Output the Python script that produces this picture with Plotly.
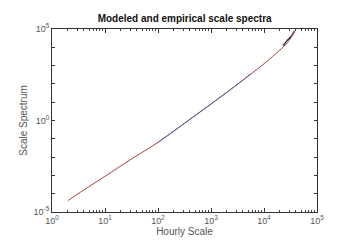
import numpy as np
import plotly.graph_objects as go

# Data (log10 values)
log_scale = [0.30, 0.60, 1.0, 1.5, 2.0, 2.5, 3.0, 3.5, 4.0, 4.3, 4.45, 4.60]
log_model = [-4.38, -3.80, -3.05, -2.10, -1.20, -0.15, 0.90, 1.98, 3.10, 3.85, 4.28, 4.97]

log_fit_scale = [2.0, 2.5, 3.0, 3.5, 3.75]
log_fit_vals = [-1.20, -0.15, 0.90, 1.98, 2.55]

log_emp_scale = [4.36, 4.44, 4.52, 4.57]
log_emp_vals = [4.10, 4.38, 4.62, 4.88]

x_tick_vals = [1, 10, 100, 1000, 10000, 100000]
x_tick_text = ["10<sup>0</sup>", "10<sup>1</sup>", "10<sup>2</sup>", "10<sup>3</sup>", "10<sup>4</sup>", "10<sup>5</sup>"]
y_tick_vals = [1e-5, 1e-4, 1e-3, 1e-2, 1e-1, 1, 10, 100, 1e3, 1e4, 1e5]
y_tick_text = ["10<sup>-5</sup>", "", "", "", "", "10<sup>0</sup>", "", "", "", "", "10<sup>5</sup>"]

p = lambda a: [10 ** v for v in a]

fig = go.Figure()
fig.add_trace(go.Scatter(x=p(log_emp_scale), y=p(log_emp_vals), mode="lines",
                         line=dict(color="#222222", width=1.3, shape="spline"), showlegend=False))
fig.add_trace(go.Scatter(x=p(log_scale), y=p(log_model), mode="lines",
                         line=dict(color="#a8423f", width=1, shape="spline"),
                         showlegend=False))
fig.add_trace(go.Scatter(x=p(log_fit_scale), y=p(log_fit_vals), mode="lines",
                         line=dict(color="#5a5aa8", width=1, shape="spline"), showlegend=False))

tickfont = dict(family="Liberation Sans, Arial, sans-serif", size=9, color="#555555")
fig.update_layout(
    width=362, height=250,
    margin=dict(l=52, r=45, t=29, b=38),
    paper_bgcolor="white", plot_bgcolor="white",
    title=dict(text="<b>Modeled and empirical scale spectra</b>", x=0.51, xanchor="center",
               y=0.925, yanchor="middle",
               font=dict(family="Liberation Sans, Arial, sans-serif", size=10, color="#111111")),
    xaxis=dict(type="log", range=[0, 5], tickvals=x_tick_vals, ticktext=x_tick_text,
               ticks="inside", ticklen=4, tickcolor="#333333", showline=True, linecolor="#333333",
               linewidth=1, mirror="allticks", showgrid=False, zeroline=False, tickfont=tickfont,
               minor=dict(ticks="inside", ticklen=2, tickcolor="#444444", dtick="D1", showgrid=False),
               title=dict(text="Hourly Scale", standoff=2,
                          font=dict(family="Liberation Sans, Arial, sans-serif", size=10, color="#555555"))),
    yaxis=dict(type="log", range=[-5, 5], tickvals=y_tick_vals, ticktext=y_tick_text,
               ticks="inside", ticklen=3, tickcolor="#333333", showline=True, linecolor="#333333",
               linewidth=1, mirror="allticks", showgrid=False, zeroline=False, tickfont=tickfont,
               title=dict(text="Scale Spectrum", standoff=4,
                          font=dict(family="Liberation Sans, Arial, sans-serif", size=10, color="#555555"))),
)

fig.write_html("out.html")
